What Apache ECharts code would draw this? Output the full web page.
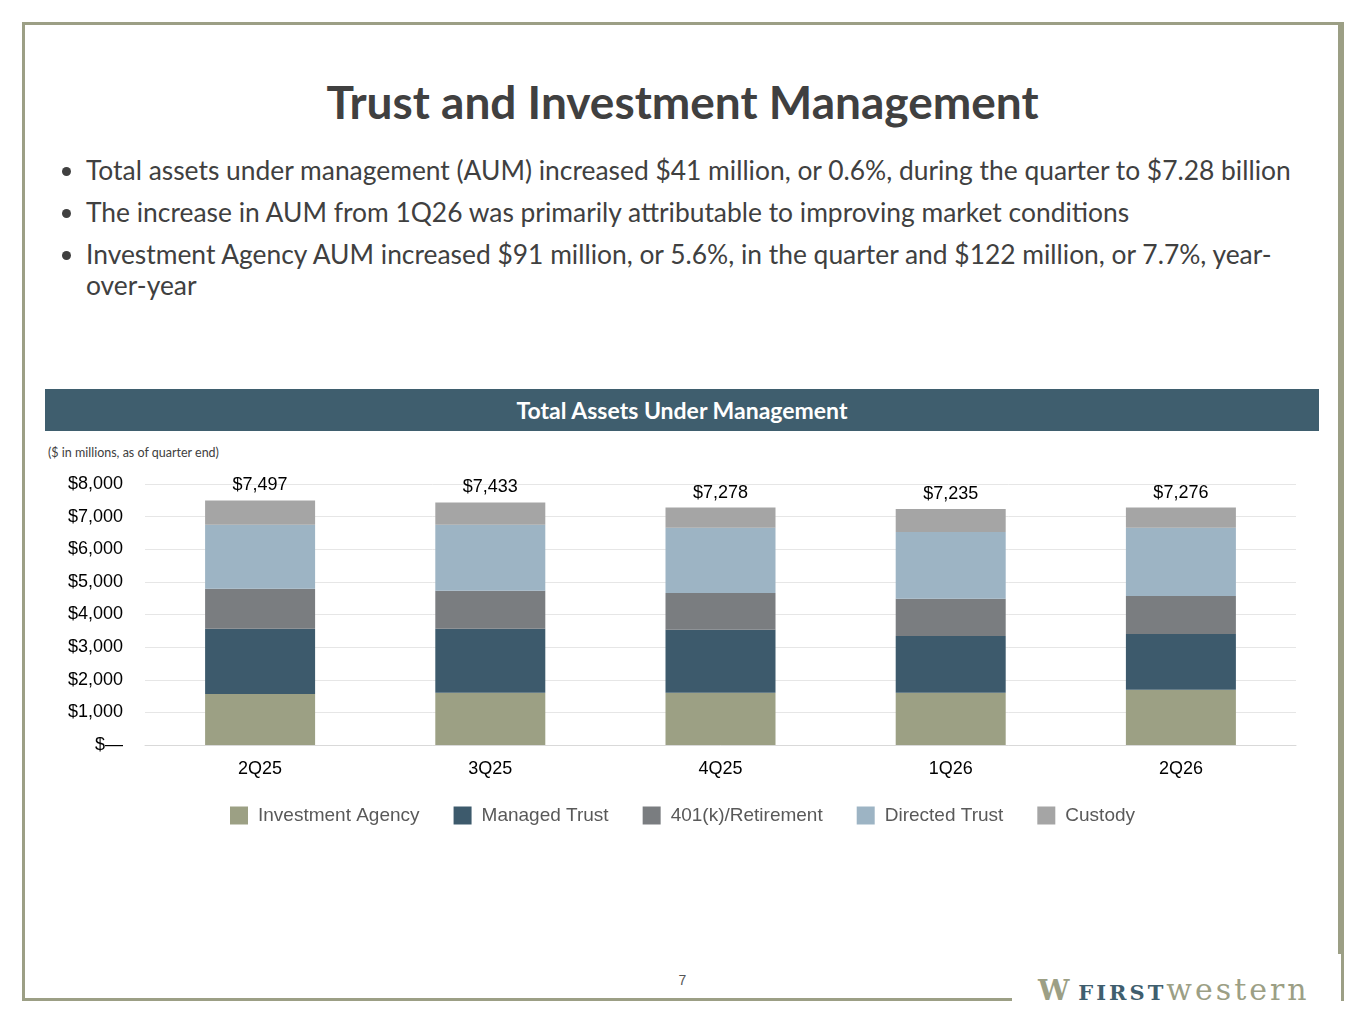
<!DOCTYPE html>
<html><head><meta charset="utf-8">
<script src="https://cdn.jsdelivr.net/npm/echarts@6/dist/echarts.min.js"></script>
<style>
body{margin:0;width:1365px;height:1024px;background:#fff;font-family:Lato,"Open Sans",sans-serif;position:relative;overflow:hidden}
#frame{position:absolute;left:22px;top:22px;width:1316px;height:976px;border:3px solid #9c9f85;border-bottom:none}
#fb{position:absolute;left:22px;top:998px;width:990px;height:3px;background:#9c9f85}
#fr{position:absolute;left:1338px;top:22px;width:3px;height:932px;background:#9c9f85}
h1{position:absolute;top:74px;left:0;width:1365px;text-align:center;margin:0;font-size:46px;color:#404040;font-weight:bold}
ul{position:absolute;top:155px;left:60px;width:1215px;margin:0;padding:0 0 0 26px;font-size:26.4px;color:#404040;line-height:31px}
li{margin-bottom:11px}
#band{position:absolute;left:45px;top:389px;width:1274px;height:42px;background:#3f5e6e;color:#fff;font-weight:bold;font-size:23px;text-align:center;line-height:42px}
#note{position:absolute;left:48px;top:445px;font-size:12.5px;color:#404040}
#chart{position:absolute;left:0;top:460px;width:1365px;height:400px}
#pg{position:absolute;left:0;top:972px;width:1365px;text-align:center;font-size:14px;color:#555;font-family:Arial,sans-serif}
#logo{position:absolute;left:1038px;top:972px;font-family:"DejaVu Serif",serif;color:#3f5e6e;font-size:28px}
</style></head><body>
<div id="frame"></div><div id="fb"></div><div id="fr"></div>
<h1>Trust and Investment Management</h1>
<ul>
<li>Total assets under management (AUM) increased $41 million, or 0.6%, during the quarter to $7.28 billion</li>
<li>The increase in AUM from 1Q26 was primarily attributable to improving market conditions</li>
<li>Investment Agency AUM increased $91 million, or 5.6%, in the quarter and $122 million, or 7.7%, year-over-year</li>
</ul>
<div id="band">Total Assets Under Management</div>
<div id="note">($ in millions, as of quarter end)</div>
<div id="chart"></div>
<div id="pg">7</div>
<div id="logo"><span style="color:#9c9f85;font-weight:bold">W</span> <span style="font-weight:bold;font-size:21px;letter-spacing:3px">FIRST</span><span style="color:#9c9f85;font-size:30px;letter-spacing:3px">western</span></div>
<script>
const categories=['2Q25','3Q25','4Q25','1Q26','2Q26'];
const investmentAgency=[1565,1600,1600,1600,1690];
const managedTrust=[2000,1960,1930,1740,1710];
const retirement=[1225,1165,1130,1140,1170];
const directedTrust=[1960,2025,2000,2050,2090];
const custody=[747,683,618,705,616];
const totals=['$7,497','$7,433','$7,278','$7,235','$7,276'];
const yTicks={0:'$—',1000:'$1,000',2000:'$2,000',3000:'$3,000',4000:'$4,000',5000:'$5,000',6000:'$6,000',7000:'$7,000',8000:'$8,000'};
const names=['Investment Agency','Managed Trust','401(k)/Retirement','Directed Trust','Custody'];
const colors=['#9ca084','#3d5a6c','#7a7d80','#9db4c4','#a5a5a5'];
const data=[investmentAgency,managedTrust,retirement,directedTrust,custody];
const series=data.map((d,i)=>({name:names[i],type:'bar',stack:'a',data:d,barWidth:110,itemStyle:{color:colors[i]},
 label:i===4?{show:true,position:'top',distance:6,color:'#000',fontSize:18,fontFamily:'Arial',formatter:p=>totals[p.dataIndex]}:{show:false}}));
const ch=echarts.init(document.getElementById('chart'));
ch.setOption({animation:false,
 grid:{left:145,right:69,top:24,bottom:115},
 legend:{bottom:30,left:'center',itemWidth:18,itemHeight:18,itemGap:34,icon:'rect',textStyle:{fontSize:19,color:'#595959',fontFamily:'Arial',padding:[0,0,0,5]}},
 xAxis:{type:'category',data:categories,axisLine:{lineStyle:{color:'#d9d9d9'}},axisTick:{show:false},axisLabel:{fontSize:18,color:'#000',fontFamily:'Arial',margin:15}},
 yAxis:{type:'value',min:0,max:8000,interval:1000,axisLabel:{fontSize:18,color:'#000',fontFamily:'Arial',margin:22,formatter:v=>yTicks[v]},splitLine:{lineStyle:{color:'#e6e6e6'}}},
 series});
</script></body></html>
